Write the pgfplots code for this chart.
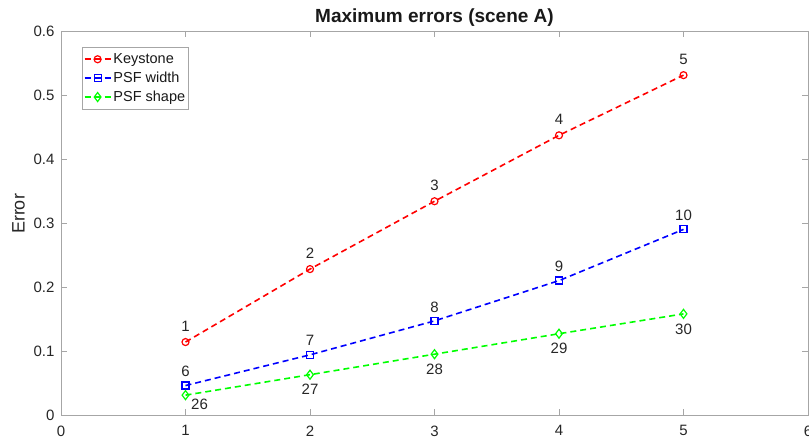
\documentclass[border=0pt]{standalone}
\usepackage{fontspec}
\setmainfont{Liberation Sans}
\usepackage{pgfplots}
\usepackage{pgfplotstable}
\pgfplotsset{compat=1.18}
\pgfplotstableread{
x y lab
1 0.114 1
2 0.228 2
3 0.334 3
4 0.437 4
5 0.531 5
}\keystone
\pgfplotstableread{
x y lab
1 0.046 6
2 0.094 7
3 0.147 8
4 0.210 9
5 0.290 10
}\psfwidth
\pgfplotstableread{
x y lab
1 0.031 26
2 0.063 27
3 0.095 28
4 0.127 29
5 0.158 30
}\psfshape
\begin{document}
\begin{tikzpicture}
\begin{axis}[
  name=ax,
  scale only axis,
  width=747pt, height=384pt,
  xmin=0, xmax=6, ymin=0, ymax=0.6,
  xtick={0,1,2,3,4,5,6},
  ytick={0,0.1,0.2,0.3,0.4,0.5,0.6},
  yticklabels={0,0.1,0.2,0.3,0.4,0.5,0.6},
  tick align=inside,
  major tick length=6pt,
  axis line style={draw=black!35, line width=0.8pt},
  every tick/.style={draw=black!35, line width=0.8pt},
  tick label style={font=\fontsize{15}{18}\selectfont, text=black!85},
  /pgf/number format/assume math mode=true,
  xticklabel style={yshift=-7pt},
  yticklabel style={xshift=-3pt},
  title={\bfseries Maximum errors (scene A)},
  title style={font=\fontsize{19}{23}\selectfont, text=black!90, at={(0.5,1)}, anchor=south, yshift=-5pt},
  ylabel={Error},
  ylabel style={font=\fontsize{18}{21}\selectfont, text=black!85, yshift=2pt, xshift=9pt},
  legend style={at={(0.028,0.958)}, anchor=north west, draw=black!35, line width=0.8pt,
    font=\fontsize{14.5}{17}\selectfont, text=black!90, row sep=3pt, inner xsep=1.5pt, inner ysep=4pt},
  legend cell align=left,
  legend image code/.code={\draw[mark repeat=2, mark phase=2, #1] plot coordinates {(0pt,0pt) (13pt,0pt) (26pt,0pt)};},
  every axis plot/.append style={line width=1.6pt, dash pattern=on 6pt off 4pt},
  lbl/.style={nodes near coords, point meta=explicit symbolic,
    nodes near coords style={anchor=center, yshift=#1,
      font=\fontsize{15}{18}\selectfont, text=black!85}},
]
\addplot[color=red, mark=o, mark size=3.5pt, mark options={solid, line width=1.2pt, draw=red}, lbl=16pt]
  table[x=x, y=y, meta=lab] {\keystone};
\addlegendentry{Keystone}
\addplot[color=blue, mark=square, mark size=3.5pt, mark options={solid, line width=1.2pt, draw=blue}, lbl=14pt]
  table[x=x, y=y, meta=lab] {\psfwidth};
\addlegendentry{PSF width}
\addplot[color=green, mark=diamond, mark size=4.5pt, mark options={solid, line width=1.2pt, draw=green}, lbl=-15pt,
  coordinate style/.condition={\coordindex==0}{xshift=14pt, yshift=6pt}]
  table[x=x, y=y, meta=lab] {\psfshape};
\addlegendentry{PSF shape}
\end{axis}
\pgfresetboundingbox
\path[use as bounding box] ([shift={(-61pt,-23pt)}]ax.south west) rectangle ([shift={(1pt,31pt)}]ax.north east);
\end{tikzpicture}
\end{document}
